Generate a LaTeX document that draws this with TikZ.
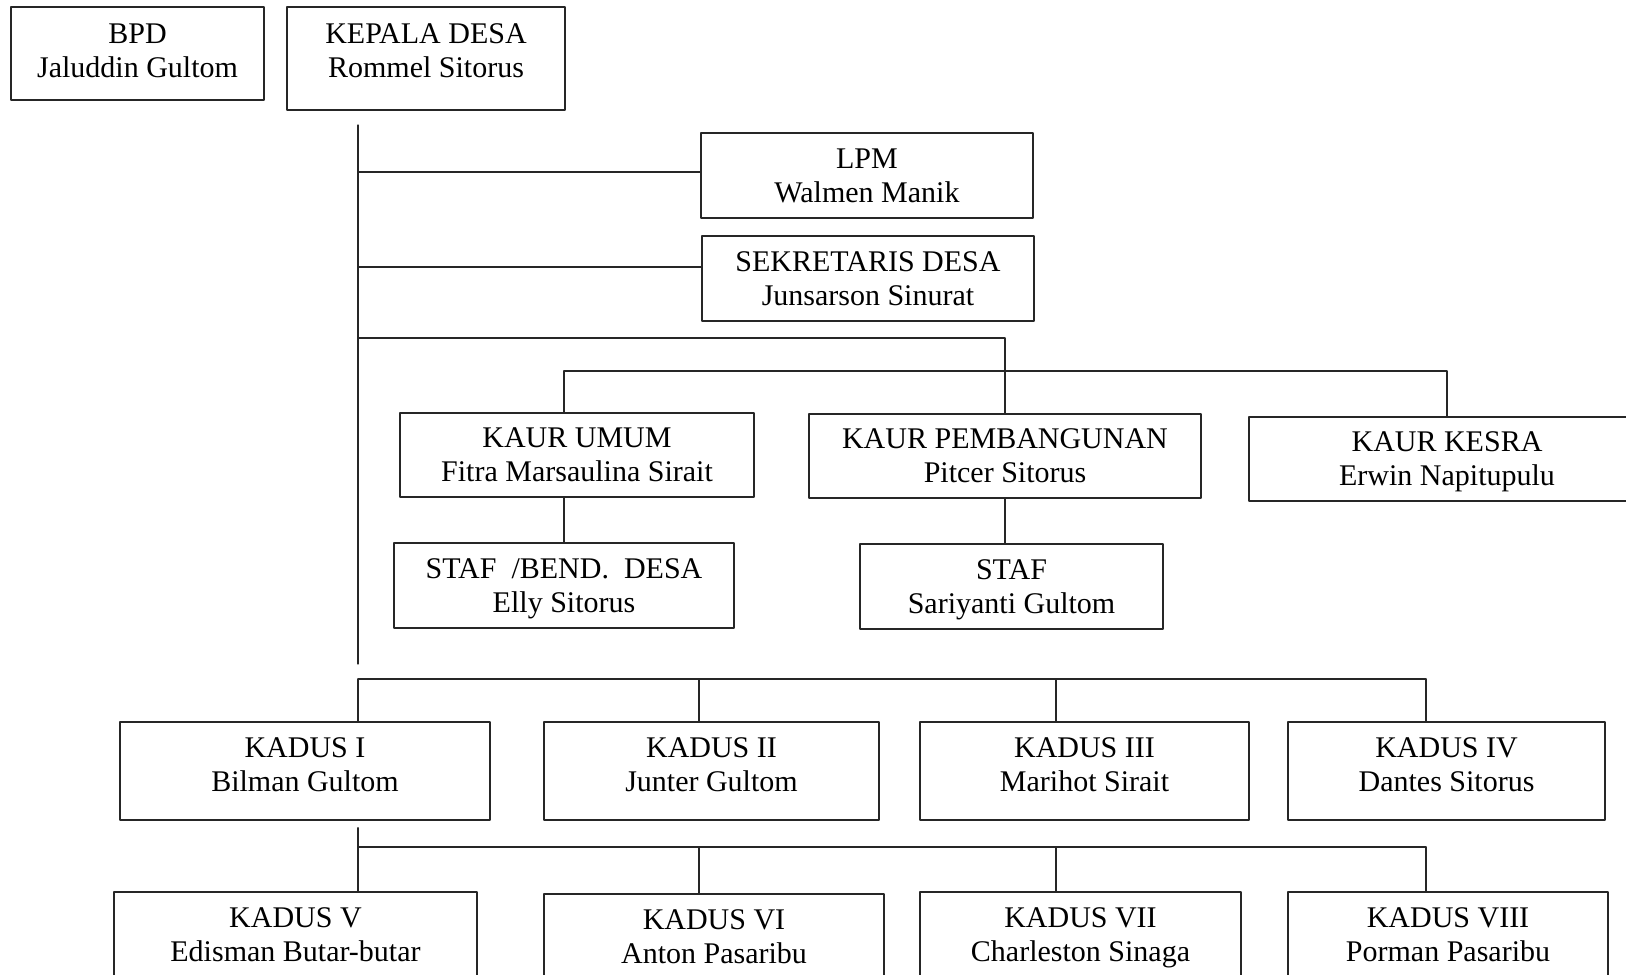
\documentclass[tikz,border=0pt]{standalone}
\usepackage{fontspec}
\setmainfont{Liberation Serif}
\begin{document}
\begin{tikzpicture}[x=0.5pt, y=-0.5pt, font=\fontsize{15}{17}\selectfont, line join=round, line cap=round,
	box/.style={draw=black!85, line width=0.7pt, align=center, inner sep=0pt, text depth=0pt, minimum height=42.5pt},
	kadus/.style={box, minimum width=#1, minimum height=49pt, text depth=6pt},
	link/.style={draw=black!85, line width=0.6pt}]
	\useasboundingbox (0,0) rectangle (1626,974);
	\node[box, minimum width=126.5pt, minimum height=46.5pt, text depth=3pt] (bpd) at (137.5,53.5) {BPD\\Jaluddin Gultom};
	\node[box, minimum width=139pt, minimum height=51.5pt, text depth=8pt] (kades) at (426,58.5) {KEPALA DESA\\Rommel Sitorus};
	\node[box, minimum width=166pt] (lpm) at (867,175.5) {LPM\\Walmen Manik};
	\node[box, minimum width=166pt] (sekdes) at (868,278.5) {SEKRETARIS DESA\\Junsarson Sinurat};
	\node[box, minimum width=177pt, minimum height=42pt] (umum) at (577,455) {KAUR UMUM\\Fitra Marsaulina Sirait};
	\node[box, minimum width=196pt, minimum height=42pt] (pemb) at (1005,456) {KAUR PEMBANGUNAN\\Pitcer Sitorus};
	\node[box, minimum width=198pt, minimum height=42pt] (kesra) at (1447,459) {KAUR KESRA\\Erwin Napitupulu};
	\node[box, minimum width=170pt] (bend) at (564,585.5) {STAF~~/BEND.~~DESA\\Elly Sitorus};
	\node[box, minimum width=151.5pt] (staf) at (1011.5,586.5) {STAF\\Sariyanti Gultom};
	\node[kadus=185pt] (k1) at (305,771) {KADUS I\\Bilman Gultom};
	\node[kadus=167.5pt] (k2) at (711.5,771) {KADUS II\\Junter Gultom};
	\node[kadus=164.5pt] (k3) at (1084.5,771) {KADUS III\\Marihot Sirait};
	\node[kadus=158.5pt] (k4) at (1446.5,771) {KADUS IV\\Dantes Sitorus};
	\node[kadus=181.5pt] (k5) at (295.5,941) {KADUS V\\Edisman Butar-butar};
	\node[kadus=170pt] (k6) at (714,943) {KADUS VI\\Anton Pasaribu};
	\node[kadus=160.5pt] (k7) at (1080.5,941) {KADUS VII\\Charleston Sinaga};
	\node[kadus=160pt] (k8) at (1448,941) {KADUS VIII\\Porman Pasaribu};
	\coordinate (top) at (358,125);
	\coordinate (bot) at (358,664);
	\coordinate (l) at ([yshift=1.75pt]lpm.west);
	\coordinate (s) at ([yshift=5.75pt]sekdes.west);
	\coordinate (j) at (358,338);
	\coordinate (b) at (564,371);
	\draw[link] (top)--(bot);
	\draw[link] (l)--(l-|top);
	\draw[link] (s)--(s-|top);
	\draw[link] (j)-|(pemb.north);
	\draw[link] (umum.north-|b)--(b)-|(kesra.north);
	\draw[link] (umum.south-|bend.north)--(bend.north);
	\draw[link] (pemb.south)--(pemb.south|-staf.north);
	\foreach \n/\x/\m in {1/358/5, 2/699/6, 3/1056/7, 4/1426/8} {
		\coordinate (d\n) at (\x,679);
		\coordinate (e\n) at (\x,847);
		\draw[link] (d\n)--(d\n|-k\n.north);
		\draw[link] (e\n)--(e\n|-k\m.north);
	}
	\draw[link] (d1)--(d4);
	\draw[link] (e1)--(e4);
	\draw[link] ([yshift=-3.5pt]k1.south-|e1)--(e1);
\end{tikzpicture}
\end{document}
